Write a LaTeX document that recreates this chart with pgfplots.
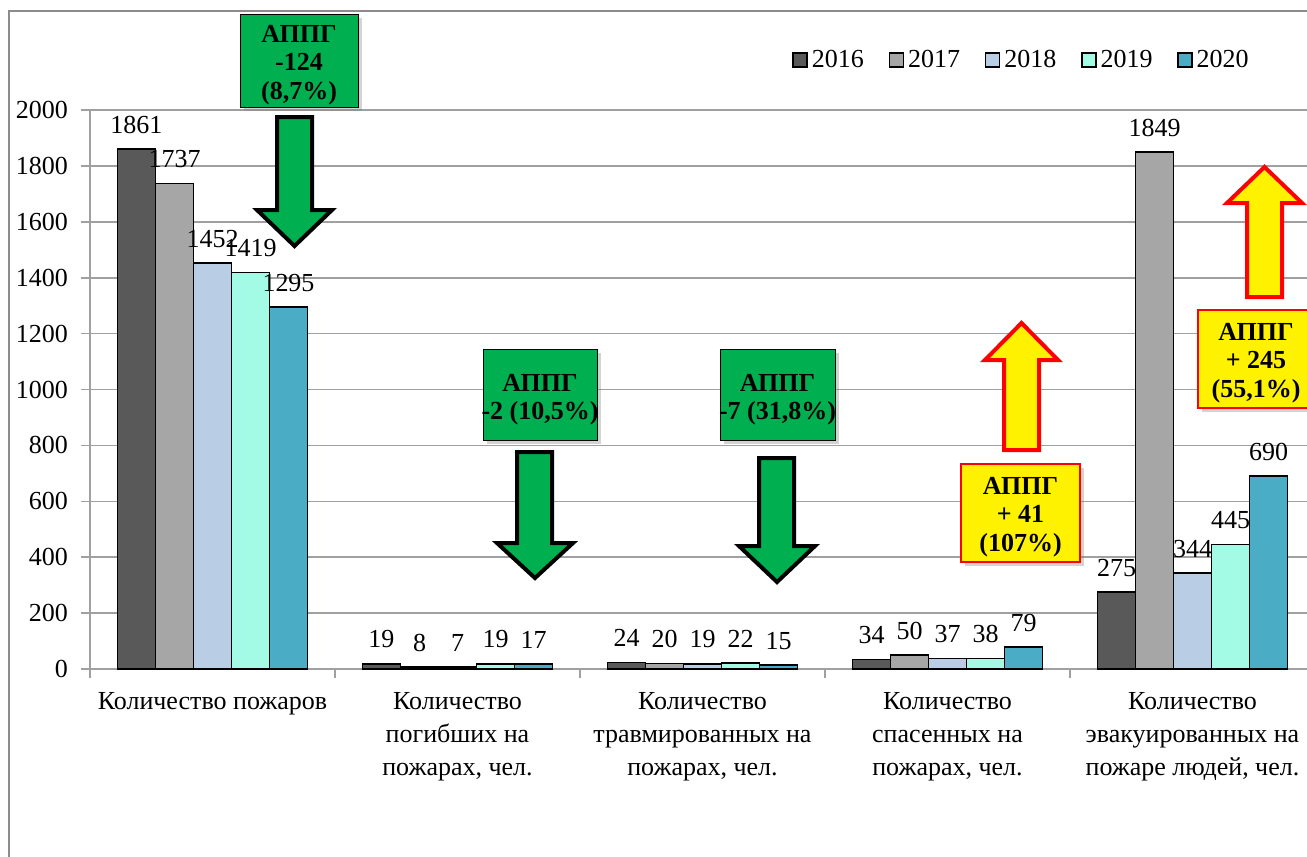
\documentclass[border=0pt]{standalone}
\usepackage{pgfplots}
\pgfplotsset{compat=1.18}
\usepackage{fontspec}
\setmainfont{Liberation Serif}
\usetikzlibrary{shadows}

\definecolor{c16}{HTML}{595959}
\definecolor{c17}{HTML}{A6A6A6}
\definecolor{c18}{HTML}{B9CDE5}
\definecolor{c19}{HTML}{A3FBE6}
\definecolor{c20}{HTML}{4BACC6}
\definecolor{appgg}{HTML}{00B050}
\definecolor{gridg}{HTML}{A0A0A0}
\definecolor{frameg}{HTML}{8C8C8C}

\newcommand{\fs}{\fontsize{13}{16.5}\selectfont}

\begin{document}
\begin{tikzpicture}
\useasboundingbox (0pt,0pt) rectangle (653.5pt,-428.5pt);
\clip (0pt,0pt) rectangle (653.5pt,-428.5pt);
\draw[frameg, line width=1pt] (4.5pt,-5.5pt) rectangle (670pt,-440pt);

\begin{axis}[
  at={(45pt,-334.5pt)}, anchor=south west,
  scale only axis, width=612.5pt, height=279.5pt,
  ybar=0pt, bar width=19pt,
  xmin=-0.5, xmax=4.5, ymin=0, ymax=2000,
  enlargelimits=false,
  axis lines*=left,
  axis line style={-, gridg, line width=0.8pt},
  ytick={0,200,...,2000},
  ymajorgrids, grid style={gridg, line width=0.8pt},
  xtick={0,...,4},
  minor xtick={-0.5,0.5,...,4.5},
  major x tick style={draw=none},
  minor x tick style={gridg, line width=0.8pt},
  y tick style={gridg, line width=0.8pt},
  tick align=outside, major tick length=4.5pt, minor tick length=4.5pt,
  xticklabels={Количество пожаров,
    {Количество\\погибших на\\пожарах, чел.},
    {Количество\\травмированных на\\пожарах, чел.},
    {Количество\\спасенных на\\пожарах, чел.},
    {Количество\\эвакуированных на\\пожаре людей, чел.}},
  xticklabel style={align=center, font=\fs, yshift=-3.5pt},
  yticklabel style={font=\fs, xshift=-3pt},
  /pgf/number format/assume math mode=true,
  /pgf/number format/1000 sep={},
  nodes near coords,
  every node near coord/.append style={font=\fs, black, yshift=4pt,
    /pgf/number format/assume math mode=true, /pgf/number format/1000 sep={}},
  legend columns=5,
  legend style={at={(0.573,1.089)}, anchor=west, draw=none, fill=none,
    font=\fs, inner sep=0pt,
    /tikz/every even column/.append style={column sep=10.3pt}},
  legend image code/.code={\draw[#1, line width=0.8pt] (0pt,-3.5pt) rectangle (7pt,3.5pt);},
]
\addplot[draw=black, line width=0.8pt, fill=c16] coordinates {(0,1861) (1,19) (2,24) (3,34) (4,275)};
\addplot[draw=black, line width=0.8pt, fill=c17] coordinates {(0,1737) (1,8) (2,20) (3,50) (4,1849)};
\addplot[draw=black, line width=0.8pt, fill=c18] coordinates {(0,1452) (1,7) (2,19) (3,37) (4,344)};
\addplot[draw=black, line width=0.8pt, fill=c19] coordinates {(0,1419) (1,19) (2,22) (3,38) (4,445)};
\addplot[draw=black, line width=0.8pt, fill=c20] coordinates {(0,1295) (1,17) (2,15) (3,79) (4,690)};
\legend{2016,2017,2018,2019,2020}
\end{axis}

\begin{scope}[x=0.5pt, y=-0.5pt, line join=miter]
  % green arrows
  \draw[black, line width=2pt, fill=appgg] (277,117) -- (312,117) -- (312,210) -- (332,210) -- (294.5,246) -- (257,210) -- (277,210) -- cycle;
  \draw[black, line width=2pt, fill=appgg] (517,452) -- (552,452) -- (552,543) -- (573,543) -- (535,578) -- (497,543) -- (517,543) -- cycle;
  \draw[black, line width=2pt, fill=appgg] (759,458) -- (794,458) -- (794,546) -- (815,546) -- (777,582) -- (739,546) -- (759,546) -- cycle;
  % yellow arrows
  \draw[red, line width=2pt, fill=yellow] (1004,450) -- (1039,450) -- (1039,360) -- (1058,360) -- (1021.5,323) -- (985,360) -- (1004,360) -- cycle;
  \draw[red, line width=2pt, fill=yellow] (1247,297) -- (1282,297) -- (1282,203) -- (1302,203) -- (1264.5,167) -- (1227,203) -- (1247,203) -- cycle;
  % boxes
  \tikzset{box/.style={inner sep=0pt, drop shadow={opacity=0.35, shadow xshift=2pt, shadow yshift=-2pt}},
           boxtxt/.style={align=center, font=\bfseries\fontsize{13}{14.25}\selectfont, inner sep=0pt}}
  \node[box, draw=black, fill=appgg, minimum width=59pt, minimum height=46.5pt] at (299,60.5) {};
  \node[boxtxt] at (299,65) {АППГ\\-124\\(8,7\%)};
  \node[box, draw=black, fill=appgg, minimum width=57pt, minimum height=45.5pt] at (540,394.5) {};
  \node[boxtxt] at (540,399.5) {АППГ\\-2 (10,5\%)};
  \node[box, draw=black, fill=appgg, minimum width=57.5pt, minimum height=45.5pt] at (777.5,394.5) {};
  \node[boxtxt] at (777.5,399.5) {АППГ\\-7 (31,8\%)};
  \node[box, draw=red, line width=0.8pt, fill=yellow, minimum width=59.5pt, minimum height=49pt] at (1020.5,513) {};
  \node[boxtxt] at (1020.5,517) {АППГ\\+ 41\\(107\%)};
  \node[box, draw=red, line width=0.8pt, fill=yellow, minimum width=58pt, minimum height=49pt] at (1256,359) {};
  \node[boxtxt] at (1256,363) {АППГ\\+ 245\\(55,1\%)};
\end{scope}
\end{tikzpicture}
\end{document}
